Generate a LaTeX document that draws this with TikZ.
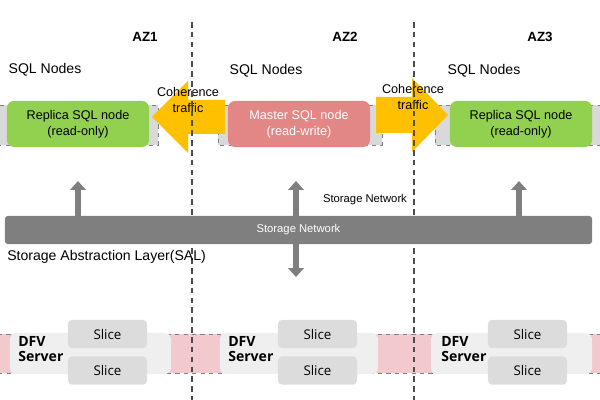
\documentclass[tikz,border=0pt]{standalone}
\usepackage{fontspec}
\setmainfont{Liberation Sans}
\newfontfamily\dfvfont{Open Sans}
\usepackage{xcolor}
\usepackage{tikz}
\usetikzlibrary{arrows.meta, backgrounds}
\definecolor{repgreen}{RGB}{146,208,80}
\definecolor{mstpink}{RGB}{226,134,134}
\definecolor{cohorange}{RGB}{255,192,0}
\definecolor{bargray}{RGB}{127,127,127}
\definecolor{stripgray}{RGB}{217,217,217}
\definecolor{srvgray}{RGB}{239,239,239}
\definecolor{slicegray}{RGB}{220,220,220}
\definecolor{gappink}{RGB}{242,201,204}

\begin{document}
\begin{tikzpicture}[
  x=0.025cm, y=-0.025cm,
  font=\fontsize{10}{11}\selectfont,
  azlab/.style={font=\fontsize{9.5}{11}\selectfont\bfseries},
  strip/.style={draw=gray, dashed, fill=stripgray},
  replica/.style={rectangle, rounded corners=5pt, fill=repgreen, align=center,
                  minimum width=3.55cm, minimum height=1.15cm, font=\fontsize{9}{11}\selectfont},
  master/.style={replica, fill=mstpink, text=white},
  coh/.style={fill=cohorange},
  cohlab/.style={align=center, inner sep=0pt, font=\fontsize{9}{11}\selectfont},
  uparr/.style={bargray, line width=4.5pt, -{Triangle[length=2.2mm, width=3.8mm]}},
  salbar/.style={rectangle, rounded corners=2pt, fill=bargray, text=white,
                 minimum width=14.675cm, minimum height=0.7cm, font=\fontsize{8}{9}\selectfont},
  gap/.style={draw=gray, dashed, fill=gappink},
  server/.style={rectangle, rounded corners=4pt, fill=srvgray, minimum height=1.025cm},
  slice/.style={rectangle, rounded corners=3pt, fill=slicegray, minimum width=1.975cm,
                minimum height=0.71cm, font=\dfvfont\fontsize{9.5}{11}\selectfont},
  dfvlab/.style={anchor=west, align=left, inner sep=0pt,
                 font=\dfvfont\fontsize{10}{11}\selectfont\bfseries},
  azline/.style={draw=black!70, dash pattern=on 4pt off 3pt, thick}]

  \useasboundingbox (0,0) rectangle (600,400);

  % zones
  \node[azlab] (az1) at (145,37) {AZ1};
  \node[azlab] (az2) at (345,37) {AZ2};
  \node[azlab] (az3) at (540,37) {AZ3};
  \node (sql1) at (45,70) {SQL Nodes};
  \node (sql2) at (266,71) {SQL Nodes};
  \node (sql3) at (484,71) {SQL Nodes};

  % SQL nodes
  \draw[strip] (-5,105) rectangle (158,145);
  \draw[strip] (218,105) rectangle (382,145);
  \draw[strip] (435,105) rectangle (605,145);
  \node[replica] (rep1) at (78,124) {Replica SQL node\\(read-only)};
  \node[master]  (mst)  at (299,124) {Master SQL node\\(read-write)};
  \node[replica] (rep3) at (521,124) {Replica SQL node\\(read-only)};

  % coherence traffic
  \fill[coh] (225,100) -- (188,100) -- (188,81) -- (152,117) -- (188,153)
             -- (188,134) -- (225,134) -- cycle;
  \fill[coh] (376,97) -- (412,97) -- (412,78) -- (448,115) -- (412,152)
             -- (412,133) -- (376,133) -- cycle;
  \node[cohlab] (coh1) at (188,100) {Coherence\\traffic};
  \node[cohlab] (coh2) at (413,97) {Coherence\\traffic};

  % storage
  \draw[gap] (-5,334) rectangle (605,373);
  \draw[azline] (192,22) -- (192,400);
  \draw[azline] (414,22) -- (414,400);
  \node[salbar] (sal) at (298.5,230) {Storage Network};
  \node[font=\fontsize{8}{9}\selectfont] (netlab) at (365,200) {Storage Network};
  \node[anchor=west, inner sep=0pt] (sallab) at (7,257) {Storage Abstraction Layer(SAL)};

  \coordinate (up1) at (78,181);
  \coordinate (up2) at (296,181);
  \coordinate (dn2) at (296,277);
  \coordinate (up3) at (519,181);
  \begin{scope}[on background layer]
    \draw[uparr] (sal.north -| up1) -- (up1);
    \draw[uparr] (sal.north -| up3) -- (up3);
    \draw[uparr, {Triangle[length=2.2mm, width=3.8mm]}-{Triangle[length=2.2mm, width=3.8mm]}] (dn2) -- (up2);
  \end{scope}

  % DFV servers
  \node[server, minimum width=4.025cm] (srv1) at (90.5,353.5) {};
  \node[server, minimum width=3.95cm]  (srv2) at (299,353.5) {};
  \node[server, minimum width=4.025cm] (srv3) at (511.5,353.5) {};
  \node[dfvlab] (dfv1) at (18,349) {DFV\\Server};
  \node[dfvlab] (dfv2) at (228,349) {DFV\\Server};
  \node[dfvlab] (dfv3) at (441,349) {DFV\\Server};
  \node[slice] (s1a) at (107.5,334) {Slice};
  \node[slice] (s1b) at (107.5,370.5) {Slice};
  \node[slice] (s2a) at (317.5,334) {Slice};
  \node[slice] (s2b) at (317.5,370.5) {Slice};
  \node[slice] (s3a) at (527.5,334) {Slice};
  \node[slice] (s3b) at (527.5,370.5) {Slice};
\end{tikzpicture}
\end{document}
